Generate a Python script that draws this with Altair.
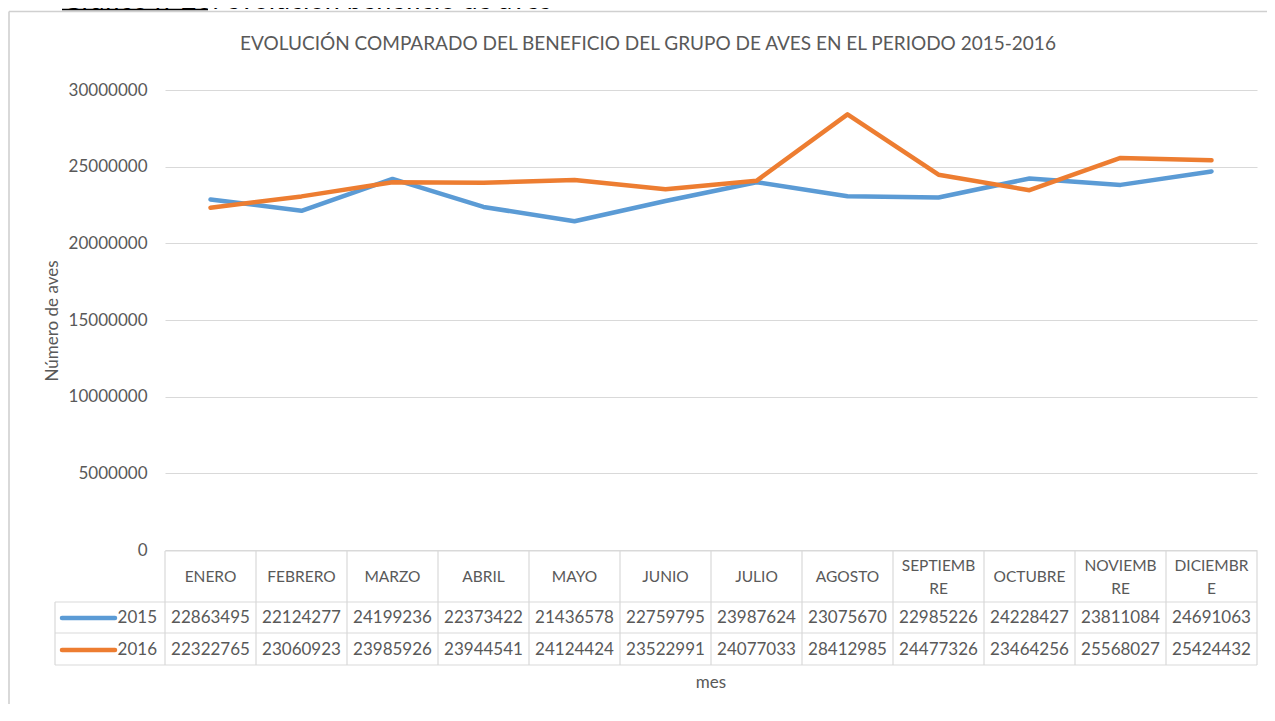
import altair as alt
import pandas as pd

months = ["ENERO", "FEBRERO", "MARZO", "ABRIL", "MAYO", "JUNIO", "JULIO",
          "AGOSTO", "SEPTIEMBRE", "OCTUBRE", "NOVIEMBRE", "DICIEMBRE"]
header_labels = ["ENERO", "FEBRERO", "MARZO", "ABRIL", "MAYO", "JUNIO", "JULIO",
                 "AGOSTO", "SEPTIEMB\nRE", "OCTUBRE", "NOVIEMB\nRE", "DICIEMBR\nE"]
v2015 = [22863495, 22124277, 24199236, 22373422, 21436578, 22759795, 23987624,
         23075670, 22985226, 24228427, 23811084, 24691063]
v2016 = [22322765, 23060923, 23985926, 23944541, 24124424, 23522991, 24077033,
         28412985, 24477326, 23464256, 25568027, 25424432]
years = ["2015", "2016"]
colors = ["#5B9BD5", "#ED7D31"]
y_ticks = [0, 5000000, 10000000, 15000000, 20000000, 25000000, 30000000]

title_text = "EVOLUCIÓN COMPARADO DEL BENEFICIO DEL GRUPO DE AVES EN EL PERIODO 2015-2016"
caption_text = "Gráfico n°26: evolución beneficio de aves"
y_title = "Número de aves"
x_title = "mes"

FONT = "Lato"
GRAY = "#595959"
BORDER = "#D9D9D9"
W, H = 1092, 460
LH = 23

long = pd.DataFrame({
    "month": months * 2,
    "year": [years[0]] * 12 + [years[1]] * 12,
    "value": v2015 + v2016,
})
nlines = [lab.count("\n") + 1 for lab in header_labels]
mdf = pd.DataFrame({"month": months, "label": header_labels,
                    "ly": [487 - (n - 1) * LH / 2 for n in nlines],
                    "v2015": [str(v) for v in v2015],
                    "v2016": [str(v) for v in v2016]})
one = pd.DataFrame({"k": [0]})

xscale = alt.Scale(type="band", domain=months, paddingInner=0, paddingOuter=0)
xenc = alt.X("month:N", scale=xscale, axis=None, sort=months)

# chart frame: only its top and left edges are within the picture
frame_top = alt.Chart(one).mark_rule(color="#D0D0D0", strokeWidth=1.6).encode(
    x=alt.value(-156), x2=alt.value(1102), y=alt.value(-78.5), y2=alt.value(-78.5))
frame_left = alt.Chart(one).mark_rule(color="#D0D0D0", strokeWidth=1.6).encode(
    x=alt.value(-156), x2=alt.value(-156), y=alt.value(-78.5), y2=alt.value(614))

lines = alt.Chart(long).mark_line(strokeWidth=4.5, strokeJoin="round", strokeCap="round").encode(
    x=xenc,
    y=alt.Y("value:Q", scale=alt.Scale(domain=[0, 30000000]),
            axis=alt.Axis(values=y_ticks, format="d", title=None, domain=False, ticks=False,
                          labelPadding=18, labelFont=FONT, labelFontSize=17, labelColor=GRAY,
                          gridColor=BORDER, gridWidth=1.2)),
    color=alt.Color("year:N", scale=alt.Scale(domain=years, range=colors), legend=None),
)

# table borders
hl = pd.DataFrame({"x0": [0, -110, -110, -110], "x1": [W, W, W, W], "py": [461, 512, 543, 575]})
hrules = alt.Chart(hl).mark_rule(color=BORDER, strokeWidth=1.2).encode(
    x=alt.X("x0:Q", scale=None, axis=None), x2="x1:Q",
    y=alt.Y("py:Q", scale=None, axis=None))
vrules = alt.Chart(mdf).mark_rule(color=BORDER, strokeWidth=1.2).encode(
    x=alt.X("month:N", scale=xscale, axis=None, sort=months, bandPosition=0),
    y=alt.value(461), y2=alt.value(575))
vright = alt.Chart(one).mark_rule(color=BORDER, strokeWidth=1.2).encode(
    x=alt.value(W), y=alt.value(461), y2=alt.value(575))
vleft = alt.Chart(one).mark_rule(color=BORDER, strokeWidth=1.2).encode(
    x=alt.value(-110), y=alt.value(512), y2=alt.value(575))

header = alt.Chart(mdf).mark_text(font=FONT, fontSize=15.5, color=GRAY, lineBreak="\n",
                                  lineHeight=LH, baseline="middle").encode(
    x=xenc, y=alt.Y("ly:Q", scale=None, axis=None), text="label:N")
row15 = alt.Chart(mdf).mark_text(font=FONT, fontSize=17, color=GRAY, baseline="middle").encode(
    x=xenc, y=alt.value(528), text="v2015:N")
row16 = alt.Chart(mdf).mark_text(font=FONT, fontSize=17, color=GRAY, baseline="middle").encode(
    x=xenc, y=alt.value(560), text="v2016:N")

leg = pd.DataFrame({"year": years, "py": [528, 560]})
leg_lines = alt.Chart(leg).mark_rule(strokeWidth=4.5, strokeCap="round").encode(
    x=alt.value(-103), x2=alt.value(-50),
    y=alt.Y("py:Q", scale=None, axis=None),
    color=alt.Color("year:N", scale=alt.Scale(domain=years, range=colors), legend=None))
leg_text = alt.Chart(leg).mark_text(font=FONT, fontSize=17, color=GRAY, align="right",
                                    baseline="middle").encode(
    x=alt.value(-8), y=alt.Y("py:Q", scale=None, axis=None), text="year:N")

def label(txt, x, y, size, angle=0, color=GRAY, align="center", baseline="middle"):
    return alt.Chart(pd.DataFrame({"t": [txt]})).mark_text(
        font=FONT, fontSize=size, color=color, align=align, baseline=baseline, angle=angle
    ).encode(x=alt.value(x), y=alt.value(y), text="t:N")

title = label(title_text, 483, -46, 19)
ytitle = label(y_title, -112, 231, 17, angle=270)
xtitle = label(x_title, 546, 593, 17)
caption = label(caption_text, -103, -81, 27, color="black", align="left", baseline="alphabetic")
underline = alt.Chart(one).mark_rule(color="black", strokeWidth=1.5).encode(
    x=alt.value(-103), x2=alt.value(43), y=alt.value(-80.5), y2=alt.value(-80.5))

chart = alt.layer(
    frame_top, frame_left, lines, hrules, vrules, vright, vleft, header, row15, row16,
    leg_lines, leg_text, title, ytitle, xtitle, caption, underline
).properties(
    width=W, height=H,
    autosize=alt.AutoSizeParams(type="none"),
    padding={"left": 157, "top": 82, "right": 10, "bottom": 155},
).configure_view(stroke=None)

chart.save("out.html", embed_options={"renderer": "svg", "actions": False})
